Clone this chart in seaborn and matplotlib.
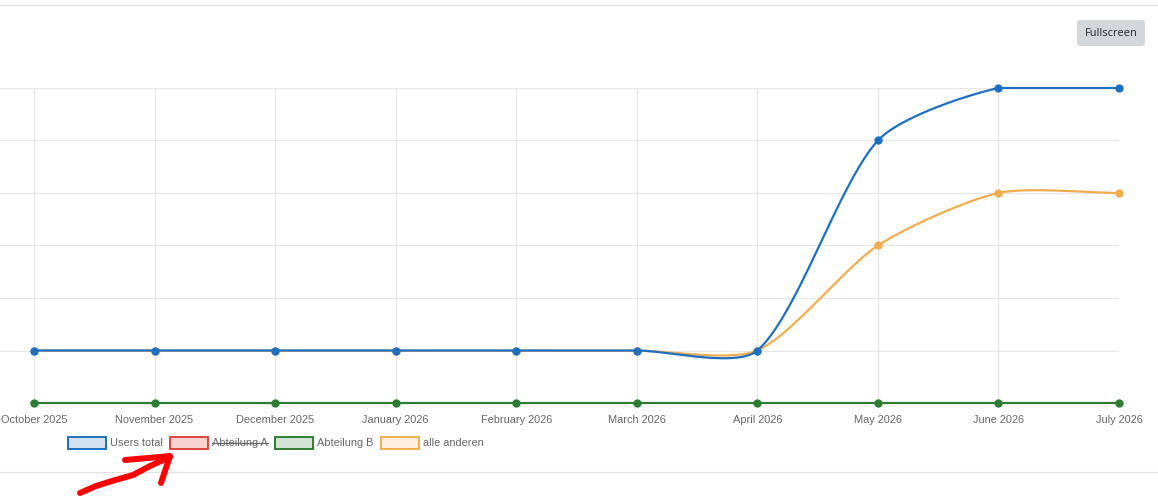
import numpy as np
import pandas as pd
import matplotlib
matplotlib.use("Agg")
import matplotlib.pyplot as plt
from matplotlib.patches import Rectangle, FancyBboxPatch
from matplotlib.lines import Line2D
import seaborn as sns

# chart data
months = ["October 2025", "November 2025", "December 2025", "January 2026",
          "February 2026", "March 2026", "April 2026", "May 2026",
          "June 2026", "July 2026"]
users_total = [1, 1, 1, 1, 1, 1, 1, 5, 6, 6]
abteilung_b = [0, 0, 0, 0, 0, 0, 0, 0, 0, 0]
alle_anderen = [1, 1, 1, 1, 1, 1, 1, 3, 4, 4]

series_names = ["Users total", "Abteilung A", "Abteilung B", "alle anderen"]
hidden = ["Abteilung A"]
line_colors = {"Users total": "#1f6fc0", "Abteilung A": "#d9463b",
               "Abteilung B": "#2e7d32", "alle anderen": "#f0ad4e"}
fill_colors = {"Users total": "#d2e2f2", "Abteilung A": "#f6d3d1",
               "Abteilung B": "#d3e4d4", "alle anderen": "#fdefdb"}

W, H = 1158, 497
# plot area in pixels
AX_L, AX_R, AX_T, AX_B = 0, 1119, 88, 403
X_FIRST = 34            # pixel of first category
Y_MAX = 6
TENSION = 0.25


def fig_xy(x, y):
    return x / W, 1 - y / H


def spline_curve(vals, sx, sy, tension=0.4, n=40):
    """Chart.js style bezier smoothing, control points computed in pixel space."""
    px = np.arange(len(vals)) * sx
    py = np.asarray(vals, float) * sy
    cps = []
    for i in range(len(vals)):
        p = max(i - 1, 0)
        q = min(i + 1, len(vals) - 1)
        d01 = np.hypot(px[i] - px[p], py[i] - py[p])
        d12 = np.hypot(px[q] - px[i], py[q] - py[i])
        tot = d01 + d12
        fa = tension * (d01 / tot if tot else 0)
        fb = tension * (d12 / tot if tot else 0)
        dx, dy = px[q] - px[p], py[q] - py[p]
        prev_cp = np.array([px[i] - fa * dx, np.clip(py[i] - fa * dy, 0, Y_MAX * sy)])
        next_cp = np.array([px[i] + fb * dx, np.clip(py[i] + fb * dy, 0, Y_MAX * sy)])
        cps.append((prev_cp, next_cp))
    xs, ys = [], []
    t = np.linspace(0, 1, n)[:, None]
    for i in range(len(vals) - 1):
        p0 = np.array([px[i], py[i]])
        p3 = np.array([px[i + 1], py[i + 1]])
        p1, p2 = cps[i][1], cps[i + 1][0]
        pts = ((1 - t) ** 3) * p0 + 3 * ((1 - t) ** 2) * t * p1 + 3 * (1 - t) * t ** 2 * p2 + t ** 3 * p3
        xs.extend(pts[:, 0] / sx)
        ys.extend(pts[:, 1] / sy)
    return np.array(xs), np.array(ys)


sns.set_style("white")
plt.rcParams["font.family"] = ["Liberation Sans", "DejaVu Sans"]

fig = plt.figure(figsize=(W / 100, H / 100), dpi=100)
ax = fig.add_axes([AX_L / W, 1 - AX_B / H, (AX_R - AX_L) / W, (AX_B - AX_T) / H])

step = (AX_R - X_FIRST) / (len(months) - 1)
ypx = (AX_B - AX_T) / Y_MAX

data = {"Users total": users_total, "Abteilung B": abteilung_b, "alle anderen": alle_anderen}

# draw last dataset first so "Users total" ends up on top
for z, name in enumerate(reversed(list(data))):
    vals = data[name]
    cx, cy = spline_curve(vals, step, ypx, tension=TENSION)
    curve = pd.DataFrame({"x": cx, "y": cy})
    sns.lineplot(data=curve, x="x", y="y", sort=False, estimator=None,
                 color=line_colors[name], linewidth=1.6, ax=ax, zorder=3 + z)
    pts = pd.DataFrame({"x": np.arange(len(vals)), "y": vals})
    sns.scatterplot(data=pts, x="x", y="y", color=line_colors[name], s=36,
                    linewidth=0, ax=ax, zorder=3 + z, clip_on=False)

for line in ax.lines:
    line.set_clip_on(False)

ax.set_xlim(-(X_FIRST - AX_L) / step, len(months) - 1)
ax.set_ylim(0, Y_MAX)
ax.set_xticks(range(len(months)))
ax.set_xticklabels(months)
ax.set_yticks(range(Y_MAX + 1))
ax.set_yticklabels([])
ax.set_xlabel("")
ax.set_ylabel("")
ax.grid(True, color="#e6e6e6", linewidth=0.8)
ax.set_axisbelow(True)
for s in ax.spines.values():
    s.set_visible(False)
ax.tick_params(axis="x", length=5, width=0.8, color="#e6e6e6", pad=3.5,
               labelsize=7.9, labelcolor="#666666")
ax.tick_params(axis="y", length=0)

# top and bottom separator lines of the page
fig.add_artist(Line2D([0, 1], [fig_xy(0, 5)[1]] * 2, color="#e2e2e2", linewidth=0.9))
fig.add_artist(Line2D([0, 1], [fig_xy(0, 472)[1]] * 2, color="#e2e2e2", linewidth=0.9))

# legend
box_x = [68, 170, 275, 381]
for bx, name in zip(box_x, series_names):
    x0, y0 = fig_xy(bx, 449)
    fig.add_artist(Rectangle((x0, y0), 38 / W, 12 / H, transform=fig.transFigure,
                             facecolor=fill_colors[name], edgecolor=line_colors[name],
                             linewidth=1.4))
    tx, ty = fig_xy(bx + 42, 443)
    txt = fig.text(tx, ty, name, fontsize=7.9, color="#666666", va="center", ha="left")
    if name in hidden:
        fig.canvas.draw()
        bb = txt.get_window_extent().transformed(fig.transFigure.inverted())
        fig.add_artist(Line2D([bb.x0, bb.x1], [ty, ty], color="#666666", linewidth=0.9))

# fullscreen button
bx0, by0 = fig_xy(1077, 46)
fig.add_artist(FancyBboxPatch((bx0, by0), 68 / W, 26 / H, transform=fig.transFigure,
                              boxstyle="round,pad=0,rounding_size=0.004",
                              facecolor="#d3d6db", edgecolor="none"))
fx, fy = fig_xy(1111, 34)
fig.text(fx, fy, "Fullscreen", fontsize=7.9, color="#212529", ha="center", va="center",
         family=["Open Sans", "DejaVu Sans"])

# red hand-drawn arrow
shaft = [(80, 493), (96, 486), (112, 481), (133, 475), (150, 466), (170, 457)]
head = [(125, 460), (148, 458), (170, 456), (166, 468), (161, 483)]
for stroke in (shaft, head):
    fx_, fy_ = zip(*[fig_xy(x, y) for x, y in stroke])
    fig.add_artist(Line2D(fx_, fy_, color="#ff0000", linewidth=4.3,
                          solid_capstyle="round", solid_joinstyle="round"))

fig.savefig("out.png", dpi=100)
